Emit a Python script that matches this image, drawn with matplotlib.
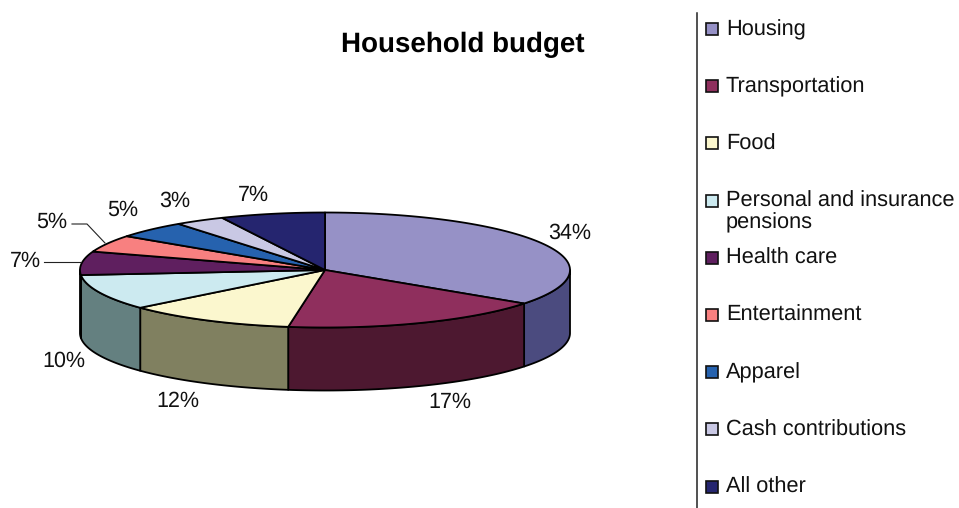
# Household budget, flat drawn 3D pie
import numpy as np
import matplotlib
matplotlib.use('Agg')
import matplotlib.pyplot as plt
from matplotlib.patches import Rectangle

plt.rcParams['font.family'] = ['Liberation Sans', 'DejaVu Sans']
plt.rcParams['text.hinting'] = 'no_hinting'

# Data
categories = ['Housing', 'Transportation', 'Food', 'Personal and insurance\npensions',
              'Health care', 'Entertainment', 'Apparel', 'Cash contributions', 'All other']
shares = [34.9, 17.5, 11.2, 10.0, 6.6, 4.8, 4.8, 3.3, 6.9]
pct_labels = ['34%', '17%', '12%', '10%', '7%', '5%', '5%', '3%', '7%']

top_colors = ['#9691C6', '#8F2F5D', '#FBF7CE', '#CCEAF0', '#5F1F5F',
              '#F88080', '#2662AE', '#C9C8E4', '#25256F']
side_colors = ['#4B4B7F', '#4D1830', '#808060', '#648080', '#301030',
               '#7C4040', '#133157', '#656472', '#131338']

# Layout, in image pixels
cx, cy, rx, ry, depth = 325, 270, 245, 57.5, 63
label_pos = [(570, 233), (450, 402), (178, 401), (64, 361), (25, 261),
             (52, 222), (123, 210), (175, 201), (253, 195)]
legend_y0, legend_step = 28, 57.2


def rim(t):
    # t is degrees clockwise from the top of the ellipse
    r = np.radians(t)
    return cx + rx * np.sin(r), cy - ry * np.cos(r)


fig = plt.figure(figsize=(9.59, 5.08), dpi=100)
ax = fig.add_axes([0, 0, 1, 1])
ax.set_xlim(0, 959)
ax.set_ylim(508, 0)
ax.axis('off')

ends = np.cumsum(shares) / np.sum(shares) * 360
starts = np.concatenate([[0], ends[:-1]])

# Front walls, only the part between 90 and 270 degrees shows
for t0, t1, col in zip(starts, ends, side_colors):
    a, b = max(t0, 90), min(t1, 270)
    if b <= a:
        continue
    x, y = rim(np.linspace(a, b, 60))
    ax.fill(np.r_[x, x[::-1]], np.r_[y, y[::-1] + depth], fc=col, ec='black',
            lw=1.3, joinstyle='round')

# Top faces
for t0, t1, col in zip(starts, ends, top_colors):
    x, y = rim(np.linspace(t0, t1, 80))
    ax.fill(np.r_[cx, x], np.r_[cy, y], fc=col, ec='black', lw=1.3, joinstyle='round')

# Percent labels
for (x, y), s in zip(label_pos, pct_labels):
    ax.text(x, y, s, fontsize=15.5, color='#111111', ha='center', va='center')

# Leader lines for the two labels on the left
ax.plot([44, 80], [262, 262], color='#222222', lw=0.8)
ax.plot([72, 87, 105], [224, 224, 243], color='#222222', lw=0.8)

ax.text(463, 45, 'Household budget', fontsize=20, fontweight='bold',
        color='black', ha='center', va='center')

# Legend
ax.plot([697, 697], [13, 508], color='#222222', lw=1.1)
for i, (name, col) in enumerate(zip(categories, top_colors)):
    y = legend_y0 + i * legend_step
    ax.add_patch(Rectangle((706, y - 5), 12, 12, fc=col, ec='#111111', lw=1.2))
    ax.text(726, y - 9, name, fontsize=15.7, color='#111111', ha='left', va='top',
            linespacing=1.1)

fig.savefig('out.png', dpi=100)
